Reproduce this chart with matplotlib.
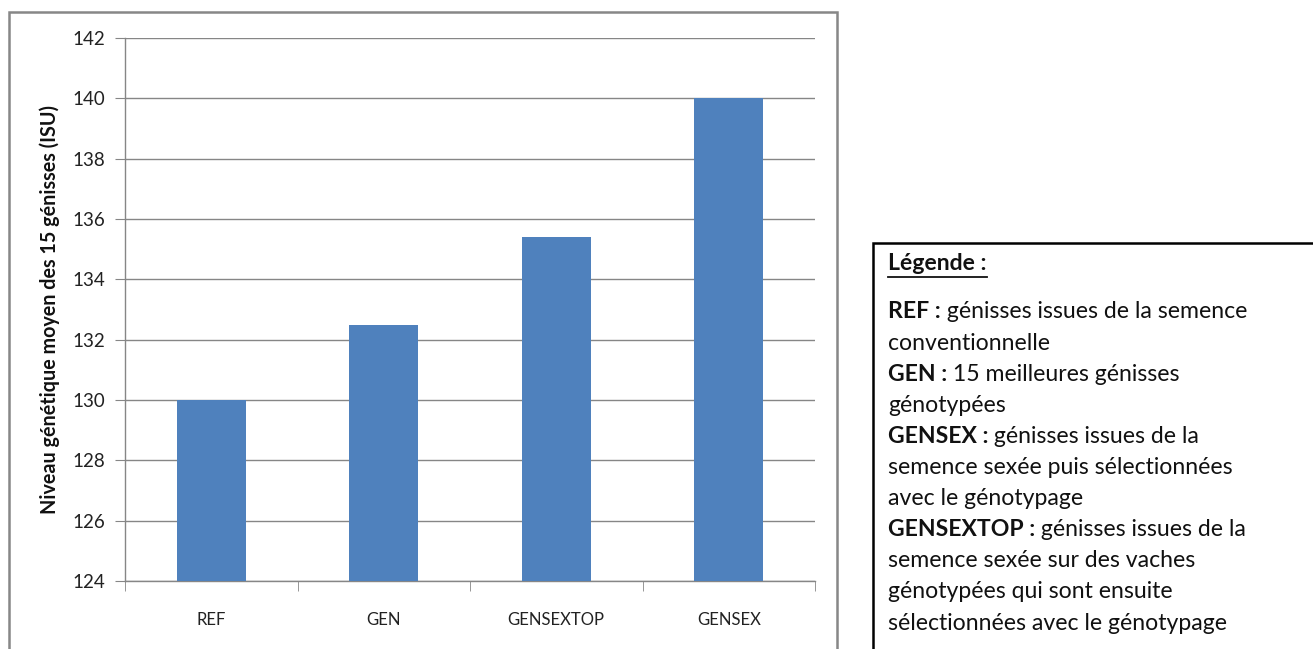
import matplotlib
matplotlib.use("Agg")
import matplotlib.pyplot as plt
from matplotlib.patches import Rectangle
from matplotlib.ticker import FixedLocator, NullFormatter

categories = ["REF", "GEN", "GENSEXTOP", "GENSEX"]
values = [130.0, 132.5, 135.4, 140.0]
y_ticks = [124, 126, 128, 130, 132, 134, 136, 138, 140, 142]
y_label = "Niveau génétique moyen des 15 génisses (ISU)"

legend_title = "Légende :"
legend_lines = [
    ("REF :", " génisses issues de la semence"),
    ("", "conventionnelle"),
    ("GEN :", " 15 meilleures génisses"),
    ("", "génotypées"),
    ("GENSEX :", " génisses issues de la"),
    ("", "semence sexée puis sélectionnées"),
    ("", "avec le génotypage"),
    ("GENSEXTOP :", " génisses issues de la"),
    ("", "semence sexée sur des vaches"),
    ("", "génotypées qui sont ensuite"),
    ("", "sélectionnées avec le génotypage"),
]

FONT = "Lato"
W, H = 1313, 649
BAR_COLOR = "#4F81BD"
GRID_COLOR = "#868686"

fig = plt.figure(figsize=(W / 100, H / 100), dpi=100)
fig.patch.set_facecolor("white")


def fx(px):
    return px / W


def fy(py):
    return 1 - py / H


# chart frame
fig.patches.append(Rectangle((fx(9), fy(700)), fx(837) - fx(9), fy(12) - fy(700),
                             transform=fig.transFigure, fill=False,
                             edgecolor="#878787", linewidth=1.8, zorder=0))

ax = fig.add_axes([fx(125), fy(581), fx(815) - fx(125), fy(38) - fy(581)])
x = list(range(len(categories)))
ax.bar(x, values, width=0.4, color=BAR_COLOR, bottom=0, zorder=3)
ax.set_xlim(-0.5, len(categories) - 0.5)
ax.set_ylim(y_ticks[0], y_ticks[-1])
ax.set_yticks(y_ticks)
ax.set_xticks(x)
ax.set_xticklabels(categories, fontfamily=FONT, fontsize=12, color="#222222")
ax.xaxis.set_minor_locator(FixedLocator([i - 0.5 for i in range(len(categories) + 1)]))
ax.xaxis.set_minor_formatter(NullFormatter())
ax.tick_params(axis="x", which="major", length=0, pad=22)
ax.tick_params(axis="x", which="minor", length=7, color=GRID_COLOR, direction="out")
ax.tick_params(axis="y", length=7, color=GRID_COLOR, direction="out", pad=7,
               labelsize=13.5, labelcolor="#222222")
for lab in ax.get_yticklabels():
    lab.set_fontfamily(FONT)
ax.grid(axis="y", color=GRID_COLOR, linewidth=1.0, zorder=0)
ax.set_axisbelow(True)
for s in ("top", "right"):
    ax.spines[s].set_visible(False)
for s in ("left", "bottom"):
    ax.spines[s].set_color(GRID_COLOR)
    ax.spines[s].set_linewidth(1.0)
ax.set_ylabel(y_label, fontfamily=FONT, fontsize=14.2, fontweight="bold",
              color="#111111", labelpad=9)

# legend box
fig.patches.append(Rectangle((fx(873), fy(700)), fx(1400) - fx(873), fy(243) - fy(700),
                             transform=fig.transFigure, fill=False,
                             edgecolor="black", linewidth=1.8, zorder=0))

fig.canvas.draw()
renderer = fig.canvas.get_renderer()

TXT_X = 888
TXT_SIZE = 16.6
t = fig.text(fx(TXT_X), fy(263), legend_title, fontfamily=FONT, fontsize=TXT_SIZE,
             fontweight="bold", va="center", ha="left", color="#111111")
bb = t.get_window_extent(renderer)
fig.lines.append(plt.Line2D([bb.x0 / W, bb.x1 / W], [fy(277), fy(277)],
                            transform=fig.transFigure, color="#111111", linewidth=1.3))

y0, dy = 312, 31.1
for i, (bold, reg) in enumerate(legend_lines):
    yy = fy(y0 + i * dy)
    xx = fx(TXT_X)
    if bold:
        tb = fig.text(xx, yy, bold, fontfamily=FONT, fontsize=TXT_SIZE, fontweight="bold",
                      va="center", ha="left", color="#111111")
        xx = tb.get_window_extent(renderer).x1 / W
    fig.text(xx, yy, reg, fontfamily=FONT, fontsize=TXT_SIZE, va="center", ha="left",
             color="#111111")

fig.savefig("out.png", dpi=100)
